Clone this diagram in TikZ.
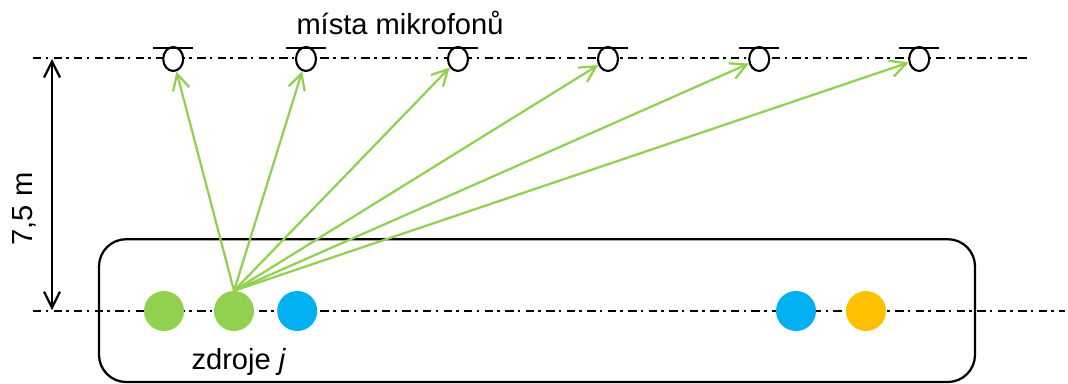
\documentclass[tikz,border=0pt]{standalone}
\usepackage{fontspec}
\setmainfont{Liberation Sans}
\usetikzlibrary{arrows.meta,shapes.geometric,backgrounds}
\definecolor{zelena}{HTML}{92D050}
\definecolor{modra}{HTML}{00B0F0}
\definecolor{zluta}{HTML}{FFC000}

\begin{document}
\begin{tikzpicture}[
  mic/.style={draw, ellipse, fill=white, line width=1.5pt,
              minimum width=0.5cm, minimum height=0.6cm, inner sep=0},
  src/.style={circle, minimum size=1cm, inner sep=0},
  osa/.style={line width=1.2pt, dash pattern=on 6pt off 3pt on 1.8pt off 3.8pt},
  arr/.style={{Straight Barb[length=4mm,width=4mm,line width=1.6pt]}-{Straight Barb[length=4mm,width=4mm,line width=1.6pt]}, line width=1.6pt},
  paprsek/.style={-{Straight Barb[length=4mm,width=4.2mm,line width=1.6pt]}, line width=1.6pt, draw=zelena},
  lbl/.style={font=\fontsize{20.7}{24}\selectfont}
]
\useasboundingbox (0,0) rectangle (26.7,9.575);

%% ── nodes ───────────────────────────────────────────────────────────────
\node[draw, rounded corners=0.68cm, line width=1.6pt,
      minimum width=21.9cm, minimum height=3.57cm] (box) at (13.425,1.81) {};

% sources on the lower line
\node[src, fill=zelena] (s1) at (4.1,  1.8) {};
\node[src, fill=zelena] (s2) at (5.85, 1.8) {};
\node[src, fill=modra]  (s3) at (7.43, 1.8) {};
\node[src, fill=modra]  (s4) at (19.9, 1.8) {};
\node[src, fill=zluta]  (s5) at (21.65,1.8) {};

% microphone positions
\node[mic] (m1) at (4.33,  8.1) {};
\node[mic] (m2) at (7.65,  8.1) {};
\node[mic] (m3) at (11.45, 8.1) {};
\node[mic] (m4) at (15.2,  8.1) {};
\node[mic] (m5) at (18.98, 8.1) {};
\node[mic] (m6) at (22.98, 8.1) {};

% ends of the two lines
\coordinate (hl) at (0.825,8.125);
\coordinate (hp) at (25.75,8.125);
\coordinate (dl) at (0.825,1.8);
\coordinate (dp) at (26.63,1.8);
\coordinate (kh) at (1.3,8.1);
\coordinate (kd) at (1.3,1.82);

\node[lbl] (mista) at (10,9) {místa mikrofonů};
\node[lbl] (zdroje) at (5.97,0.53) {zdroje \textit{j}};
\node[lbl, rotate=90] (vzd) at (0.6,4.35) {7,5 m};

%% ── edges ───────────────────────────────────────────────────────────────
% bars over the microphones
\foreach \m in {m1,m2,m3,m4,m5,m6}
  \draw[line width=1.5pt] ([shift={(-0.5cm,-0.05cm)}]\m.north) -- ([shift={(0.5cm,-0.05cm)}]\m.north);

% rays from the second source
\foreach \m in {m1,m2,m3,m4,m5,m6}
  \draw[paprsek] (s2.north) -- (\m);

% distance
\draw[arr] (kh) -- (kd);

%% ── centre lines behind everything ──────────────────────────────────────
\begin{scope}[on background layer]
  \draw[osa] (hl) -- (hp);
  \draw[osa] (dl) -- (dp);
\end{scope}

\end{tikzpicture}
\end{document}
